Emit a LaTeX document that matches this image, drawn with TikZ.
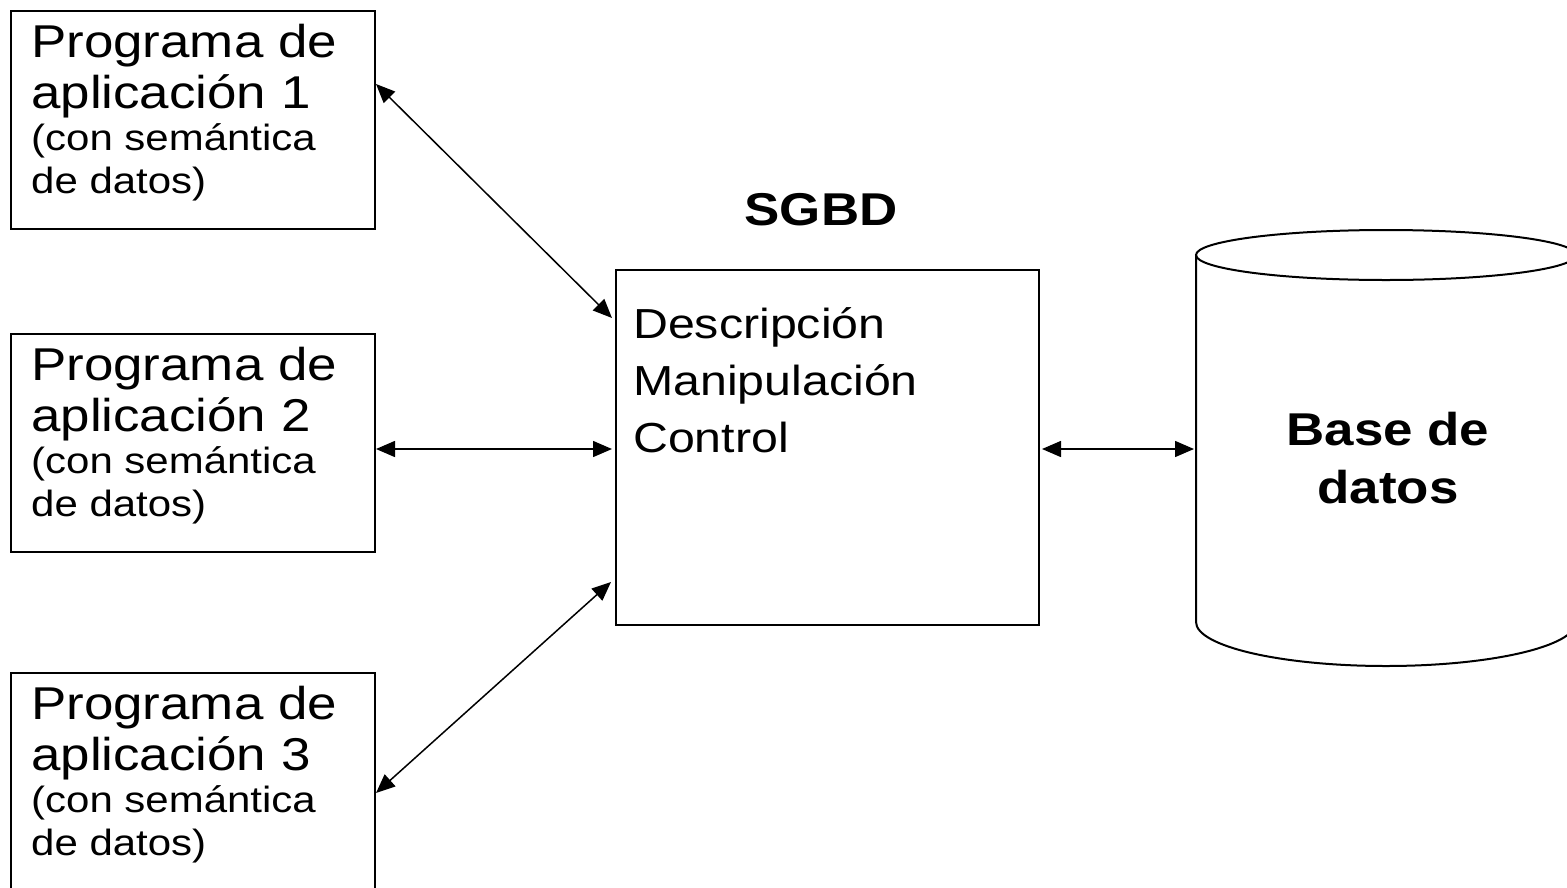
\documentclass[tikz,border=0pt]{standalone}
\usepackage{fontspec}
\setmainfont{Liberation Sans}[FakeStretch=1.15]
\usetikzlibrary{arrows.meta,calc}
\tikzset{
  headtip/.tip={Triangle[length=19pt,width=16pt]}
}
\begin{document}
\begin{tikzpicture}[x=1pt,y=-1pt,
  appbox/.style={draw, line width=2pt, minimum width=364pt, minimum height=218pt,
    inner sep=0pt, anchor=north west},
  bigtxt/.style={anchor=base west, inner sep=0pt, font=\fontsize{46}{50}\selectfont},
  smalltxt/.style={anchor=base west, inner sep=0pt, font=\fontsize{36.5}{40}\selectfont},
  desctxt/.style={anchor=base west, inner sep=0pt, font=\fontsize{42}{46}\selectfont},
  boldtxt/.style={anchor=base, inner sep=0pt, font=\bfseries\fontsize{46}{50}\selectfont},
  biarrow/.style={headtip-headtip, line width=1.5pt}
]
\useasboundingbox (0,0) rectangle (1567,887);
\clip (0,0) rectangle (1567,887);

% application programs
\node[appbox] (b1) at (10,10) {};
\node[appbox] (b2) at (10,333) {};
\node[appbox, minimum height=240pt] (b3) at (10,672) {};

\node[bigtxt] (t1a) at (31,57) {Programa de};
\node[bigtxt] (t1b) at (31,108) {aplicación 1};
\node[smalltxt] (t1c) at (31,150) {(con semántica};
\node[smalltxt] (t1d) at (31,193) {de datos)};

\node[bigtxt] (t2a) at (31,380) {Programa de};
\node[bigtxt] (t2b) at (31,431) {aplicación 2};
\node[smalltxt] (t2c) at (31,473) {(con semántica};
\node[smalltxt] (t2d) at (31,516) {de datos)};

\node[bigtxt] (t3a) at (31,719) {Programa de};
\node[bigtxt] (t3b) at (31,770) {aplicación 3};
\node[smalltxt] (t3c) at (31,812) {(con semántica};
\node[smalltxt] (t3d) at (31,855) {de datos)};

% DBMS
\node[boldtxt] (title) at (821,225) {SGBD};
\node[draw, line width=2pt, minimum width=423pt, minimum height=355pt,
  inner sep=0pt, anchor=north west] (sgbd) at (615,269) {};
\node[desctxt] (d1) at (633,338) {Descripción};
\node[desctxt] (d2) at (633,395) {Manipulación};
\node[desctxt] (d3) at (633,452) {Control};

% database cylinder
\node[minimum width=380pt, minimum height=367pt, inner sep=0pt,
  anchor=north west] (db) at (1196,255) {};
\draw[line width=2pt] (1196,255) -- (1196,622)
  arc[start angle=180, end angle=360, x radius=190pt, y radius=44pt] -- (1576,255);
\draw[line width=2pt] (1386,255) ellipse[x radius=190pt, y radius=25pt];
\node[boldtxt] (db1) at (1388,445) {Base de};
\node[boldtxt] (db2) at (1388,503) {datos};

% connections
\draw[biarrow] ([yshift=36pt]b1.east) -- ([shift={(-3,49)}]sgbd.north west);
\draw[biarrow, shorten >=3pt] ([yshift=-6pt]b2.east) -- ([yshift=-6pt]b2.east -| sgbd.west);
\draw[biarrow] (b3.east) -- ([shift={(-4,-44)}]sgbd.south west);
\draw[biarrow, shorten <=2pt, shorten >=2pt] ([yshift=-1.5pt]sgbd.east) -- ([yshift=-1.5pt]sgbd.east -| db.west);
\end{tikzpicture}
\end{document}
